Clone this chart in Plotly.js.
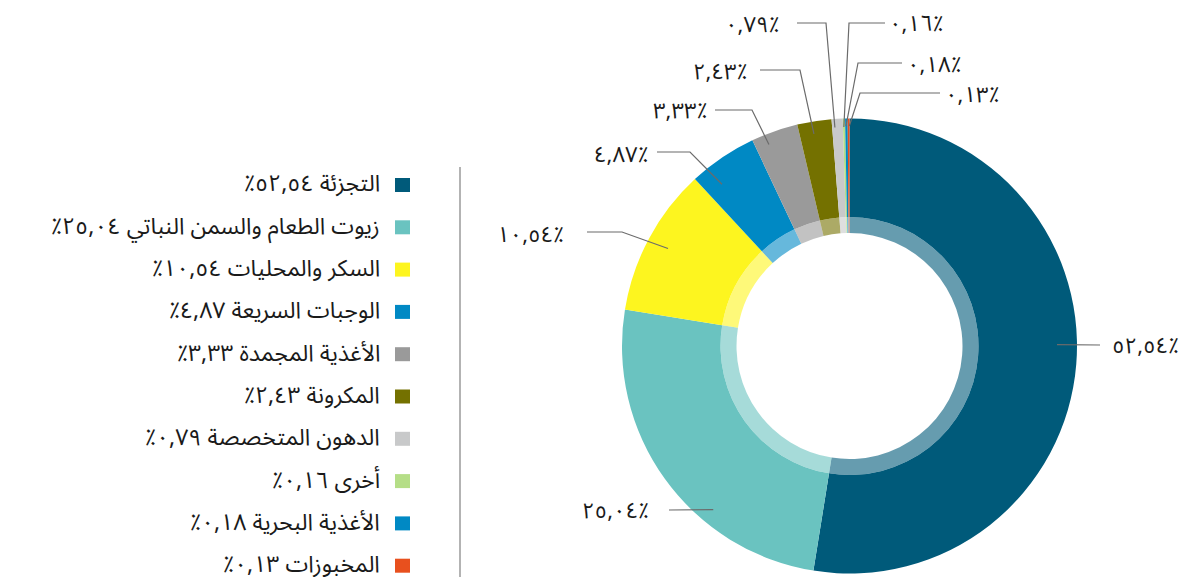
<!DOCTYPE html>
<html>
<head>
<meta charset="utf-8">
<script src="https://cdn.plot.ly/plotly-3.0.1.min.js"></script>
<style>html,body{margin:0;padding:0;background:#fff;}</style>
</head>
<body>
<div id="chart" style="width:1185px;height:577px;"></div>
<script>
// ---- data ----
const categories = [
  'التجزئة',
  'زيوت الطعام والسمن النباتي',
  'السكر والمحليات',
  'الوجبات السريعة',
  'الأغذية المجمدة',
  'المكرونة',
  'الدهون المتخصصة',
  'أخرى',
  'الأغذية البحرية',
  'المخبوزات'
];
const values = [52.54, 25.04, 10.54, 4.87, 3.33, 2.43, 0.79, 0.16, 0.18, 0.13];
const colors = ['#005A7A', '#6AC3C0', '#FDF51F', '#0089C4', '#9A9A9A', '#747100', '#C8C9CA', '#B5DE87', '#0089C4', '#E8501E'];

// ---- layout helpers (positions in pixels) ----
const W = 1185, H = 577;
const CX = 849.5, CY = 346, R = 227.5, RING = 129, HOLE = 113;
const px = x => x / W;
const py = y => 1 - y / H;

// label placement: text position, line start, elbow, anchor within slice
const labelPos = [
  {tx: 1110, ty: 346, side: 'left',  lx: 1100, ly: 345, ex: null, frac: 0.474, r: 207.5},
  {tx: 651,  ty: 511, side: 'right', lx: 669,  ly: 510, ex: null, frac: 0.34,  r: 213},
  {tx: 566,  ty: 235, side: 'right', lx: 587,  ly: 232, ex: 622,  frac: 0.5,   r: 206},
  {tx: 650,  ty: 155, side: 'right', lx: 657,  ly: 152, ex: 690,  frac: 0.26,  r: 206},
  {tx: 709,  ty: 111, side: 'right', lx: 715,  ly: 110, ex: 752,  frac: 0.29,  r: 217},
  {tx: 749,  ty: 72,  side: 'right', lx: 760,  ly: 70,  ex: 800,  frac: 0.43,  r: 215},
  {tx: 781,  ty: 25,  side: 'right', lx: 797,  ly: 23,  ex: 826,  frac: 0.25,  r: 219},
  {tx: 887,  ty: 24,  side: 'left',  lx: 885,  ly: 23,  ex: 849,  frac: 0.375, r: 219},
  {tx: 905,  ty: 65,  side: 'left',  lx: 902,  ly: 63,  ex: 858,  frac: 0.3,   r: 220},
  {tx: 943,  ty: 95,  side: 'left',  lx: 940,  ly: 93,  ex: 860,  frac: 0.9,   r: 220}
];

const arDigits = '٠١٢٣٤٥٦٧٨٩';
function arPct(v) {
  return v.toFixed(2).replace('.', ',').replace(/[0-9]/g, d => arDigits[+d]) + '٪';
}
function hexToRgba(h, a) {
  const n = parseInt(h.slice(1), 16);
  return `rgba(${(n >> 16) & 255},${(n >> 8) & 255},${n & 255},${a})`;
}

const FONT = '"Noto Sans Arabic", "DejaVu Sans", sans-serif';
const total = values.reduce((a, b) => a + b, 0);

const traces = [
  {
    type: 'pie', values: values, labels: categories, sort: false, direction: 'clockwise', rotation: 0,
    marker: {colors: colors, line: {width: 0}}, hole: RING / R, textinfo: 'none', hoverinfo: 'label+value',
    showlegend: false,
    domain: {x: [px(CX - R), px(CX + R)], y: [py(CY + R), py(CY - R)]}
  },
  {
    type: 'pie', values: values, labels: categories, sort: false, direction: 'clockwise', rotation: 0,
    marker: {colors: colors.map(c => hexToRgba(c, 0.6)), line: {width: 0}}, hole: HOLE / RING,
    textinfo: 'none', hoverinfo: 'skip', showlegend: false,
    domain: {x: [px(CX - RING), px(CX + RING)], y: [py(CY + RING), py(CY - RING)]}
  }
];

const annotations = [];
const shapes = [];

// slice labels with leader lines
let cum = 0;
values.forEach((v, i) => {
  const L = labelPos[i];
  const ang = (cum + v * L.frac) / total * 2 * Math.PI;
  cum += v;
  const ax = CX + L.r * Math.sin(ang);
  const ay = CY - L.r * Math.cos(ang);
  let path = `M ${px(L.lx)} ${py(L.ly)}`;
  if (L.ex !== null) path += ` L ${px(L.ex)} ${py(L.ly)}`;
  path += ` L ${px(ax)} ${py(ay)}`;
  shapes.push({type: 'path', xref: 'paper', yref: 'paper', path: path, line: {color: '#6b6b6b', width: 1.2}});
  annotations.push({
    xref: 'paper', yref: 'paper', x: px(L.tx), y: py(L.ty), xanchor: L.side, yanchor: 'middle',
    text: arPct(v), showarrow: false, font: {family: FONT, size: 22, color: '#1a1a1a'}
  });
});

// legend (right-to-left: square on the right)
const LEG_Y0 = 185, LEG_DY = 42.3;
categories.forEach((c, i) => {
  const y = LEG_Y0 + i * LEG_DY;
  shapes.push({type: 'rect', xref: 'paper', yref: 'paper', x0: px(395), x1: px(410), y0: py(y + 7), y1: py(y - 7),
    fillcolor: colors[i], line: {width: 0}});
  annotations.push({
    xref: 'paper', yref: 'paper', x: px(382), y: py(y - 1), xanchor: 'right', yanchor: 'middle',
    text: '\u200F' + c + ' ' + arPct(values[i]) + '\u200F', showarrow: false,
    font: {family: FONT, size: 23, color: '#1a1a1a'}
  });
});

// divider line
shapes.push({type: 'line', xref: 'paper', yref: 'paper', x0: px(460), x1: px(460), y0: py(167), y1: py(577),
  line: {color: '#9a9a9a', width: 1.5}});

Plotly.newPlot('chart', traces, {
  width: W, height: H, margin: {l: 0, r: 0, t: 0, b: 0},
  paper_bgcolor: '#ffffff', plot_bgcolor: '#ffffff',
  showlegend: false, annotations: annotations, shapes: shapes
}, {displayModeBar: false, staticPlot: true});
</script>
</body>
</html>
